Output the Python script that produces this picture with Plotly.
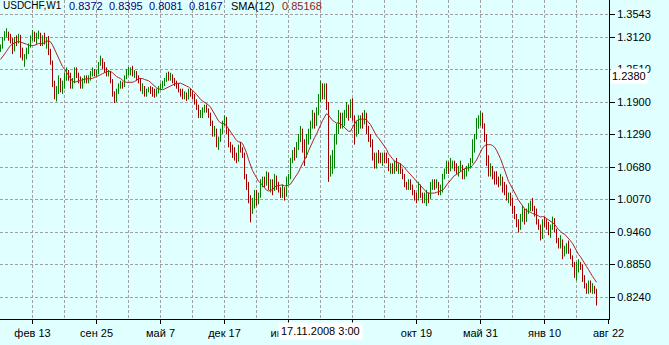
import pandas as pd
import plotly.graph_objects as go

# ---------------- data (USDCHF weekly) ----------------
first_week = "2005-08-08"

opens = [
    1.2450, 1.2520, 1.2620, 1.2500, 1.2380, 1.2440, 1.2580, 1.2720, 1.2930, 1.2920, 1.2960, 1.2880,
    1.2920, 1.3090, 1.3180, 1.3200, 1.3100, 1.3050, 1.2880, 1.3050, 1.3020, 1.3140,
    1.2800, 1.2760, 1.2780, 1.2850, 1.2950, 1.3100, 1.3150, 1.3080, 1.3150, 1.3180,
    1.3000, 1.3120, 1.3050, 1.3080, 1.2850, 1.2650, 1.2250, 1.2050, 1.2150, 1.2200,
    1.2150, 1.2250, 1.2400, 1.2420, 1.2380, 1.2250, 1.2300, 1.2450, 1.2380, 1.2330,
    1.2200, 1.2300, 1.2350, 1.2300, 1.2350, 1.2450, 1.2480, 1.2420, 1.2450, 1.2600,
    1.2700, 1.2580, 1.2500, 1.2420, 1.2450, 1.2300, 1.2050, 1.1950, 1.2100, 1.2200,
    1.2250, 1.2200, 1.2350, 1.2450, 1.2480, 1.2500, 1.2420, 1.2450, 1.2350, 1.2300,
    1.2150, 1.2180, 1.2050, 1.2100, 1.2150, 1.2100, 1.2050, 1.2030, 1.2100, 1.2180,
    1.2200, 1.2280, 1.2300, 1.2400, 1.2350, 1.2400, 1.2300, 1.2250, 1.2200, 1.2120,
    1.2050, 1.2000, 1.2050, 1.1980, 1.2100, 1.2050, 1.2000, 1.1900, 1.1800, 1.1650,
    1.1700, 1.1750, 1.1800, 1.1750, 1.1650, 1.1500, 1.1300, 1.1350, 1.1100, 1.1200,
    1.1350, 1.1500, 1.1600, 1.1350, 1.1100, 1.1000, 1.0950, 1.0850, 1.0800, 1.1050,
    1.1000, 1.0900, 1.0500, 1.0300, 1.0050, 0.9950, 1.0000, 1.0200, 1.0050, 1.0150,
    1.0400, 1.0450, 1.0350, 1.0550, 1.0300, 1.0400, 1.0250, 1.0500, 1.0300, 1.0250,
    1.0150, 1.0250, 1.0150, 1.0450, 1.0500, 1.0800, 1.0950, 1.0900, 1.1050, 1.1250,
    1.1350, 1.1100, 1.0900, 1.1250, 1.1300, 1.1500, 1.1650, 1.1550, 1.1750, 1.2000,
    1.2200, 1.2050, 1.2150, 1.1850, 1.0600, 1.0650, 1.0700, 1.1200, 1.1350, 1.1600,
    1.1550, 1.1600, 1.1700, 1.1750, 1.1650, 1.1850, 1.1600, 1.1300, 1.1400, 1.1450,
    1.1550, 1.1500, 1.1650, 1.1350, 1.1250, 1.1150, 1.0850, 1.0800, 1.0900, 1.0850,
    1.0800, 1.0900, 1.0850, 1.0800, 1.0650, 1.0700, 1.0600, 1.0750, 1.0650, 1.0700,
    1.0600, 1.0500, 1.0350, 1.0300, 1.0350, 1.0300, 1.0200, 1.0150, 1.0100, 1.0300,
    1.0150, 1.0050, 1.0100, 1.0150, 1.0100, 1.0300, 1.0400, 1.0300, 1.0350, 1.0250,
    1.0300, 1.0500, 1.0600, 1.0750, 1.0650, 1.0700, 1.0750, 1.0700, 1.0600, 1.0650,
    1.0700, 1.0550, 1.0600, 1.0650, 1.0700, 1.0800, 1.1100, 1.1250, 1.1450, 1.1550,
    1.1600, 1.1450, 1.1250, 1.0800, 1.0600, 1.0650, 1.0500, 1.0450, 1.0400, 1.0350,
    1.0450, 1.0300, 1.0200, 1.0100, 1.0150, 1.0000, 0.9850, 0.9750, 0.9600, 0.9550,
    0.9700, 0.9850, 0.9750, 0.9850, 0.9900, 1.0000, 0.9900, 0.9850, 0.9650, 0.9550,
    0.9350, 0.9650, 0.9600, 0.9550, 0.9450, 0.9550, 0.9700, 0.9500, 0.9300, 0.9200,
    0.9300, 0.9100, 0.9150, 0.9200, 0.9100, 0.9000, 0.8850, 0.8650, 0.8800, 0.8820,
    0.8780, 0.8550, 0.8450, 0.8400, 0.8450, 0.8350, 0.8420, 0.8372,
]

highs = [
    1.2600, 1.2700, 1.2650, 1.2550, 1.2500, 1.2620, 1.2760, 1.2980, 1.3000, 1.3020, 1.2990, 1.2980,
    1.3120, 1.3230, 1.3285, 1.3220, 1.3180, 1.3100, 1.3120, 1.3150, 1.3180, 1.3160,
    1.2920, 1.2800, 1.2920, 1.3000, 1.3150, 1.3250, 1.3220, 1.3200, 1.3240, 1.3200,
    1.3150, 1.3200, 1.3120, 1.3140, 1.2900, 1.2680, 1.2300, 1.2200, 1.2400, 1.2350,
    1.2300, 1.2450, 1.2550, 1.2500, 1.2450, 1.2350, 1.2550, 1.2550, 1.2450, 1.2380,
    1.2350, 1.2400, 1.2400, 1.2400, 1.2480, 1.2550, 1.2520, 1.2500, 1.2650, 1.2770,
    1.2720, 1.2650, 1.2550, 1.2500, 1.2480, 1.2330, 1.2100, 1.2150, 1.2250, 1.2300,
    1.2280, 1.2400, 1.2520, 1.2560, 1.2550, 1.2580, 1.2500, 1.2480, 1.2400, 1.2350,
    1.2250, 1.2200, 1.2150, 1.2180, 1.2200, 1.2180, 1.2150, 1.2150, 1.2200, 1.2250,
    1.2300, 1.2350, 1.2450, 1.2470, 1.2450, 1.2420, 1.2350, 1.2300, 1.2250, 1.2150,
    1.2150, 1.2100, 1.2080, 1.2150, 1.2150, 1.2100, 1.2050, 1.1950, 1.1850, 1.1750,
    1.1800, 1.1850, 1.1850, 1.1780, 1.1700, 1.1550, 1.1450, 1.1400, 1.1250, 1.1400,
    1.1550, 1.1650, 1.1620, 1.1400, 1.1150, 1.1100, 1.1050, 1.0950, 1.1100, 1.1150,
    1.1050, 1.0950, 1.0550, 1.0400, 1.0150, 1.0100, 1.0250, 1.0250, 1.0200, 1.0450,
    1.0500, 1.0500, 1.0600, 1.0580, 1.0450, 1.0450, 1.0550, 1.0520, 1.0400, 1.0300,
    1.0350, 1.0300, 1.0500, 1.0550, 1.0850, 1.1000, 1.1050, 1.1150, 1.1300, 1.1450,
    1.1400, 1.1200, 1.1300, 1.1400, 1.1550, 1.1750, 1.1700, 1.1800, 1.2050, 1.2300,
    1.2250, 1.2250, 1.2250, 1.1900, 1.0900, 1.1000, 1.1300, 1.1500, 1.1750, 1.1700,
    1.1700, 1.1750, 1.1900, 1.1850, 1.1950, 1.1970, 1.1650, 1.1550, 1.1650, 1.1650,
    1.1700, 1.1750, 1.1700, 1.1450, 1.1300, 1.1200, 1.0950, 1.0950, 1.1000, 1.0950,
    1.0950, 1.0950, 1.0950, 1.0850, 1.0750, 1.0750, 1.0800, 1.0850, 1.0750, 1.0750,
    1.0650, 1.0550, 1.0400, 1.0450, 1.0450, 1.0350, 1.0250, 1.0200, 1.0400, 1.0350,
    1.0200, 1.0200, 1.0250, 1.0200, 1.0400, 1.0450, 1.0450, 1.0450, 1.0400, 1.0350,
    1.0550, 1.0650, 1.0800, 1.0780, 1.0850, 1.0800, 1.0800, 1.0750, 1.0700, 1.0800,
    1.0720, 1.0650, 1.0700, 1.0750, 1.0850, 1.1200, 1.1300, 1.1600, 1.1650, 1.1730,
    1.1700, 1.1500, 1.1300, 1.0900, 1.0750, 1.0700, 1.0600, 1.0600, 1.0500, 1.0550,
    1.0500, 1.0400, 1.0350, 1.0200, 1.0200, 1.0100, 0.9950, 0.9800, 0.9700, 0.9800,
    0.9950, 0.9900, 0.9900, 1.0000, 1.0050, 1.0100, 0.9950, 0.9900, 0.9700, 0.9600,
    0.9700, 0.9750, 0.9700, 0.9650, 0.9600, 0.9750, 0.9720, 0.9520, 0.9350, 0.9400,
    0.9320, 0.9200, 0.9250, 0.9300, 0.9150, 0.9020, 0.8900, 0.8900, 0.8950, 0.8900,
    0.8850, 0.8650, 0.8500, 0.8550, 0.8550, 0.8500, 0.8450, 0.8395,
]

lows = [
    1.2400, 1.2480, 1.2450, 1.2330, 1.2350, 1.2400, 1.2550, 1.2700, 1.2850, 1.2870, 1.2820, 1.2840,
    1.2900, 1.3050, 1.3120, 1.3050, 1.3000, 1.2800, 1.2850, 1.2950, 1.3000, 1.2730,
    1.2680, 1.2560, 1.2700, 1.2800, 1.2920, 1.3050, 1.3030, 1.2980, 1.3080, 1.2950,
    1.2950, 1.2980, 1.2900, 1.2780, 1.2600, 1.2180, 1.1950, 1.1910, 1.2050, 1.2080,
    1.2050, 1.2150, 1.2300, 1.2300, 1.2150, 1.2150, 1.2250, 1.2350, 1.2250, 1.2150,
    1.2150, 1.2250, 1.2250, 1.2250, 1.2300, 1.2380, 1.2380, 1.2380, 1.2420, 1.2580,
    1.2520, 1.2450, 1.2380, 1.2380, 1.2250, 1.2000, 1.1880, 1.1900, 1.2050, 1.2150,
    1.2150, 1.2180, 1.2330, 1.2400, 1.2400, 1.2380, 1.2350, 1.2300, 1.2250, 1.2100,
    1.2050, 1.2000, 1.2000, 1.2080, 1.2050, 1.2000, 1.1980, 1.2000, 1.2060, 1.2120,
    1.2150, 1.2200, 1.2280, 1.2300, 1.2300, 1.2250, 1.2200, 1.2150, 1.2080, 1.2000,
    1.1950, 1.1950, 1.1920, 1.1950, 1.2000, 1.1950, 1.1850, 1.1750, 1.1600, 1.1600,
    1.1600, 1.1700, 1.1700, 1.1600, 1.1450, 1.1250, 1.1250, 1.1050, 1.1000, 1.1150,
    1.1300, 1.1450, 1.1300, 1.1050, 1.0950, 1.0850, 1.0800, 1.0750, 1.0780, 1.0950,
    1.0850, 1.0450, 1.0250, 1.0000, 0.9640, 0.9800, 0.9900, 0.9950, 0.9980, 1.0100,
    1.0300, 1.0300, 1.0330, 1.0250, 1.0200, 1.0150, 1.0230, 1.0250, 1.0200, 1.0100,
    1.0100, 1.0050, 1.0120, 1.0350, 1.0450, 1.0750, 1.0800, 1.0850, 1.1000, 1.1150,
    1.0950, 1.0700, 1.0850, 1.1100, 1.1200, 1.1400, 1.1400, 1.1450, 1.1650, 1.1900,
    1.1950, 1.1950, 1.1750, 1.0400, 1.0500, 1.0550, 1.0650, 1.1100, 1.1300, 1.1400,
    1.1400, 1.1450, 1.1600, 1.1550, 1.1600, 1.1550, 1.1100, 1.1250, 1.1300, 1.1400,
    1.1400, 1.1480, 1.1300, 1.1150, 1.1050, 1.0800, 1.0650, 1.0650, 1.0750, 1.0750,
    1.0700, 1.0750, 1.0750, 1.0600, 1.0550, 1.0550, 1.0550, 1.0600, 1.0550, 1.0550,
    1.0450, 1.0300, 1.0250, 1.0250, 1.0250, 1.0150, 1.0050, 1.0000, 1.0050, 1.0100,
    1.0000, 1.0000, 0.9950, 1.0000, 1.0080, 1.0250, 1.0250, 1.0280, 1.0150, 1.0150,
    1.0200, 1.0450, 1.0550, 1.0550, 1.0600, 1.0650, 1.0600, 1.0550, 1.0500, 1.0600,
    1.0450, 1.0450, 1.0500, 1.0600, 1.0650, 1.0750, 1.0950, 1.1200, 1.1400, 1.1450,
    1.1400, 1.1150, 1.0700, 1.0500, 1.0500, 1.0450, 1.0350, 1.0350, 1.0300, 1.0330,
    1.0200, 1.0150, 1.0050, 1.0000, 0.9950, 0.9800, 0.9700, 0.9550, 0.9450, 0.9500,
    0.9650, 0.9600, 0.9650, 0.9800, 0.9850, 0.9850, 0.9750, 0.9600, 0.9500, 0.9300,
    0.9330, 0.9550, 0.9500, 0.9400, 0.9350, 0.9500, 0.9450, 0.9250, 0.9150, 0.9150,
    0.8950, 0.9000, 0.9050, 0.9050, 0.8950, 0.8800, 0.8600, 0.8550, 0.8700, 0.8750,
    0.8520, 0.8400, 0.8300, 0.8300, 0.8320, 0.8300, 0.8300, 0.8081,
]

closes = [
    1.2520, 1.2620, 1.2500, 1.2380, 1.2440, 1.2580, 1.2720, 1.2930, 1.2920, 1.2960, 1.2880, 1.2920,
    1.3090, 1.3180, 1.3200, 1.3100, 1.3050, 1.2880, 1.3050, 1.3020, 1.3140, 1.2800,
    1.2760, 1.2780, 1.2850, 1.2950, 1.3100, 1.3150, 1.3080, 1.3150, 1.3180, 1.3000,
    1.3120, 1.3050, 1.3080, 1.2850, 1.2650, 1.2250, 1.2050, 1.2150, 1.2200, 1.2150,
    1.2250, 1.2400, 1.2420, 1.2380, 1.2250, 1.2300, 1.2450, 1.2380, 1.2330, 1.2200,
    1.2300, 1.2350, 1.2300, 1.2350, 1.2450, 1.2480, 1.2420, 1.2450, 1.2600, 1.2700,
    1.2580, 1.2500, 1.2420, 1.2450, 1.2300, 1.2050, 1.1950, 1.2100, 1.2200, 1.2250,
    1.2200, 1.2350, 1.2450, 1.2480, 1.2500, 1.2420, 1.2450, 1.2350, 1.2300, 1.2150,
    1.2180, 1.2050, 1.2100, 1.2150, 1.2100, 1.2050, 1.2030, 1.2100, 1.2180, 1.2200,
    1.2280, 1.2300, 1.2400, 1.2350, 1.2400, 1.2300, 1.2250, 1.2200, 1.2120, 1.2050,
    1.2000, 1.2050, 1.1980, 1.2100, 1.2050, 1.2000, 1.1900, 1.1800, 1.1650, 1.1700,
    1.1750, 1.1800, 1.1750, 1.1650, 1.1500, 1.1300, 1.1350, 1.1100, 1.1200, 1.1350,
    1.1500, 1.1600, 1.1350, 1.1100, 1.1000, 1.0950, 1.0850, 1.0800, 1.1050, 1.1000,
    1.0900, 1.0500, 1.0300, 1.0050, 0.9950, 1.0000, 1.0200, 1.0050, 1.0150, 1.0400,
    1.0450, 1.0350, 1.0550, 1.0300, 1.0400, 1.0250, 1.0500, 1.0300, 1.0250, 1.0150,
    1.0250, 1.0150, 1.0450, 1.0500, 1.0800, 1.0950, 1.0900, 1.1050, 1.1250, 1.1350,
    1.1100, 1.0900, 1.1250, 1.1300, 1.1500, 1.1650, 1.1550, 1.1750, 1.2000, 1.2200,
    1.2050, 1.2150, 1.1850, 1.0600, 1.0650, 1.0700, 1.1200, 1.1350, 1.1600, 1.1550,
    1.1600, 1.1700, 1.1750, 1.1650, 1.1850, 1.1600, 1.1300, 1.1400, 1.1450, 1.1550,
    1.1500, 1.1650, 1.1350, 1.1250, 1.1150, 1.0850, 1.0800, 1.0900, 1.0850, 1.0800,
    1.0900, 1.0850, 1.0800, 1.0650, 1.0700, 1.0600, 1.0750, 1.0650, 1.0700, 1.0600,
    1.0500, 1.0350, 1.0300, 1.0350, 1.0300, 1.0200, 1.0150, 1.0100, 1.0300, 1.0150,
    1.0050, 1.0100, 1.0150, 1.0100, 1.0300, 1.0400, 1.0300, 1.0350, 1.0250, 1.0300,
    1.0500, 1.0600, 1.0750, 1.0650, 1.0700, 1.0750, 1.0700, 1.0600, 1.0650, 1.0700,
    1.0550, 1.0600, 1.0650, 1.0700, 1.0800, 1.1100, 1.1250, 1.1450, 1.1550, 1.1600,
    1.1450, 1.1250, 1.0800, 1.0600, 1.0650, 1.0500, 1.0450, 1.0400, 1.0350, 1.0450,
    1.0300, 1.0200, 1.0100, 1.0150, 1.0000, 0.9850, 0.9750, 0.9600, 0.9550, 0.9700,
    0.9850, 0.9750, 0.9850, 0.9900, 1.0000, 0.9900, 0.9850, 0.9650, 0.9550, 0.9350,
    0.9650, 0.9600, 0.9550, 0.9450, 0.9550, 0.9700, 0.9500, 0.9300, 0.9200, 0.9300,
    0.9100, 0.9150, 0.9200, 0.9100, 0.9000, 0.8850, 0.8650, 0.8800, 0.8820, 0.8780,
    0.8550, 0.8450, 0.8400, 0.8450, 0.8350, 0.8420, 0.8372, 0.8167,
]

sma_period = 12

grid_dates = ["2006-06-05", "2007-01-15", "2007-08-27", "2008-04-07", "2008-11-17",
              "2009-06-29", "2010-02-08", "2010-09-20", "2011-05-02"]
tick_dates = ["2006-02-13", "2006-09-25", "2007-05-07", "2007-12-17", "2008-07-28",
              "2009-03-09", "2009-10-19", "2010-05-31", "2011-01-10", "2011-08-22"]
# "мар 9" is completely hidden under the crosshair time label in the reference
tick_labels = ["фев 13", "сен 25", "май 7", "дек 17", "июл 28",
               "", "окт 19", "май 31", "янв 10", "авг 22"]

price_ticks = [1.3543, 1.3120, 1.2510, 1.1900, 1.1290, 1.0680,
               1.0070, 0.9460, 0.8850, 0.8240, 0.7821]

header_texts = ["USDCHF,W1", "0.8372", "0.8395", "0.8081", "0.8167", "SMA(12)", "0.85168"]
header_colors = ["black", "#000080", "#000080", "#000080", "#000080", "black", "#8B1A1A"]
header_sizes = [10, 11, 11, 11, 11, 11, 11]
header_left_px = [2, 68, 108, 148, 188, 230, 281]

cross_price = 1.2380
cross_time = "2008-11-17 03:00"
cross_time_label = "17.11.2008 3:00"

# ---------------- styling ----------------
BG = "#E0FFFF"
UP = "#008000"
DOWN = "#A00000"
SMA_C = "#B22222"
GRID = "#A0A0A0"
FONT = "Liberation Sans"
FS = 11

dates = pd.date_range(first_week, periods=len(closes), freq="7D")
sma = pd.Series(closes).rolling(sma_period).mean()

W, H = 669, 345
plot_right = 609   # px
plot_bottom = 319  # px
px_per_day = 2.0 / 7.0
anchor = pd.Timestamp("2006-02-13")
anchor_px = 32.5
x0 = anchor - pd.Timedelta(days=anchor_px / px_per_day)
x1 = x0 + pd.Timedelta(days=plot_right / px_per_day)

y_top_price = 1.3120 + 37 / 532.8
y_bot_price = 1.3120 - (plot_bottom - 37) / 532.8

fig = go.Figure()
fig.add_trace(go.Ohlc(
    x=dates, open=opens, high=highs, low=lows, close=closes,
    increasing=dict(line=dict(color=UP, width=1)),
    decreasing=dict(line=dict(color=DOWN, width=1)),
    tickwidth=0, showlegend=False,
))
fig.add_trace(go.Scatter(
    x=dates, y=sma, mode="lines", line=dict(color=SMA_C, width=1),
    showlegend=False, hoverinfo="skip",
))

fig.update_layout(
    width=W, height=H,
    margin=dict(l=0, r=W - plot_right, t=0, b=H - plot_bottom, pad=0),
    paper_bgcolor=BG, plot_bgcolor=BG,
    font=dict(family=FONT, size=FS, color="black"),
    showlegend=False,
    xaxis=dict(
        type="date", range=[x0, x1], rangeslider=dict(visible=False),
        tickmode="array", tickvals=tick_dates, ticktext=tick_labels,
        showgrid=True, gridcolor=GRID, griddash="3px,2px", gridwidth=1,
        ticks="outside", ticklen=4, tickcolor="black", tickwidth=1,
        showline=True, linecolor="black", linewidth=1,
        minor=dict(tickvals=grid_dates, showgrid=True, gridcolor=GRID,
                   griddash="3px,2px", gridwidth=1, ticks=""),
        tickfont=dict(family=FONT, size=FS, color="black"),
        zeroline=False, fixedrange=True,
    ),
    yaxis=dict(
        side="right", range=[y_bot_price, y_top_price],
        tickmode="array", tickvals=price_ticks,
        ticktext=[f"{v:.4f}" for v in price_ticks],
        showgrid=True, gridcolor=GRID, griddash="3px,2px", gridwidth=1,
        ticks="outside", ticklen=5, tickcolor="black", tickwidth=1,
        showline=True, linecolor="black", linewidth=1,
        tickfont=dict(family=FONT, size=FS, color="black"),
        zeroline=False, fixedrange=True,
    ),
)

for txt, col, sz, xp in zip(header_texts, header_colors, header_sizes, header_left_px):
    fig.add_annotation(xref="paper", yref="paper", x=xp / plot_right, y=1,
                       xanchor="left", yanchor="top", yshift=1, text=txt,
                       showarrow=False, borderpad=0,
                       font=dict(family=FONT, size=sz, color=col))

fig.add_annotation(xref="paper", yref="y", x=1, y=cross_price, xanchor="left",
                   yanchor="middle", xshift=1, text=f"{cross_price:.4f}",
                   showarrow=False, bgcolor="white", borderpad=1,
                   font=dict(family=FONT, size=FS, color="black"))
fig.add_annotation(xref="x", yref="paper", x=cross_time, y=0, xanchor="center",
                   yanchor="top", yshift=-3, text=cross_time_label,
                   showarrow=False, bgcolor="white", borderpad=2,
                   font=dict(family=FONT, size=FS, color="black"))

fig.write_html("out.html")
